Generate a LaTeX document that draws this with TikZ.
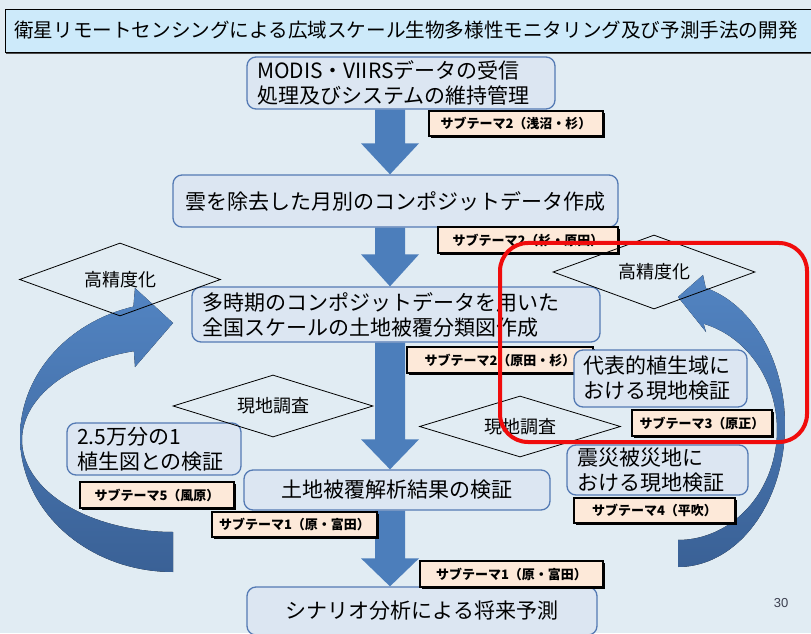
\documentclass[tikz,border=0pt]{standalone}
\usepackage{fontspec}
\newfontfamily\jp{Noto Sans CJK JP}
\newfontfamily\pn{Liberation Sans}
\usetikzlibrary{shapes.geometric,calc,shadows}
\definecolor{bgc}{RGB}{225,236,243}
\definecolor{titlefill}{RGB}{205,234,250}
\definecolor{boxfill}{RGB}{220,230,242}
\definecolor{boxline}{RGB}{84,122,180}
\definecolor{labfill}{RGB}{253,233,217}
\definecolor{arrowc}{RGB}{76,126,187}
\definecolor{arrowtop}{RGB}{82,132,194}
\definecolor{arrowbot}{RGB}{58,97,150}
\definecolor{redc}{RGB}{240,12,12}
\definecolor{pnc}{RGB}{60,64,80}
\pgfdeclarelayer{back}
\pgfdeclarelayer{mid}
\pgfsetlayers{back,mid,main}
\newcommand\blockarrow[3]{%
  \fill[arrowc] let \p1=(#1.south), \p2=(#2.north) in
    (375,\y1) -- (375,\y2+#3pt) -- (361,\y2+#3pt) -- (390,\y2)
    -- (419,\y2+#3pt) -- (405,\y2+#3pt) -- (405,\y1) -- cycle;}
\begin{document}
\begin{tikzpicture}[x=1pt,y=1pt,
  box/.style={draw=boxline, line width=1.3pt, fill=boxfill, rounded corners=9pt,
    inner sep=0pt, font=\jp\fontsize{21}{25}\selectfont},
  tag/.style={draw=black, line width=1.3pt, fill=labfill, inner sep=0pt,
    font=\jp\bfseries\fontsize{13}{15}\selectfont,
    drop shadow={shadow xshift=1.6pt, shadow yshift=-1.6pt, fill=black, opacity=1}},
  dia/.style={draw=black, line width=0.8pt, diamond, aspect=2.75, inner sep=0pt,
    font=\jp\fontsize{18}{20}\selectfont},
]
\useasboundingbox (0,0) rectangle (811,633);
\clip (0,0) rectangle (811,633);
\begin{pgfonlayer}{back}
  \fill[bgc] (0,0) rectangle (811,633);
\end{pgfonlayer}

% title
\node[draw=black, line width=1.2pt, fill=titlefill, minimum width=830pt, minimum height=43pt,
  anchor=north west, inner sep=0pt,
  drop shadow={shadow xshift=0pt, shadow yshift=-1.5pt, fill=black!70, opacity=1}] (title) at (5,624) {};
\node[anchor=west, inner sep=0pt, font=\jp\fontsize{19.6}{22}\selectfont] (titletext) at (14,603)
  {衛星リモートセンシングによる広域スケール生物多様性モニタリング及び予測手法の開発};

% main flow boxes
\node[box, minimum width=308pt, minimum height=52pt, text width=288pt, align=left] (b1) at (401,550)
  {MODIS・VIIRSデータの受信\\処理及びシステムの維持管理};
\node[box, minimum width=445pt, minimum height=52pt, align=center] (b2) at (395.5,432)
  {雲を除去した月別のコンポジットデータ作成};
\node[box, minimum width=408pt, minimum height=55pt, text width=388pt, align=left] (b3) at (396,318.5)
  {多時期のコンポジットデータを用いた\\全国スケールの土地被覆分類図作成};
\node[box, minimum width=306pt, minimum height=40pt, align=center] (b4) at (397,143)
  {土地被覆解析結果の検証};
\node[box, minimum width=350pt, minimum height=48pt, align=center] (b5) at (422,22)
  {シナリオ分析による将来予測};

% block arrows and curved arrows
\begin{pgfonlayer}{mid}
  \blockarrow{b1}{b2}{31}
  \blockarrow{b2}{b3}{32}
  \blockarrow{b3}{b4}{30}
  \blockarrow{b4}{b5}{28}
  % left curved arrow
  \fill[top color=arrowtop, bottom color=arrowbot]
    plot[domain=105:270, samples=70, variable=\t] ({173+153*cos(\t)},{196+135*sin(\t)})
    -- plot[domain=270:105, samples=70, variable=\t] ({173+151*cos(\t)},{193+92*sin(\t)})
    -- (135,266) -- (173,310) -- (135,345) -- cycle;
  % right curved arrow
  \fill[top color=arrowtop, bottom color=arrowbot]
    plot[domain=75:-90, samples=70, variable=\t] ({678+107*cos(\t)},{208+142*sin(\t)})
    -- plot[domain=-90:75, samples=70, variable=\t] ({678+99*cos(\t)},{203+110*sin(\t)})
    -- (706,301) -- (678,336) -- (703,358) -- cycle;
\end{pgfonlayer}

% subtheme tags
\node[tag, minimum width=174pt, minimum height=25pt] (t1) at (516,509.5) {サブテーマ2（浅沼・杉）};
\node[tag, minimum width=180pt, minimum height=26pt] (t2) at (528,393) {サブテーマ2（杉・原田）};
\node[tag, minimum width=186pt, minimum height=26pt] (t3) at (500,273) {サブテーマ2（原田・杉）};
\node[tag, minimum width=140pt, minimum height=26pt] (t3b) at (702,210) {サブテーマ3（原正）};
\node[tag, minimum width=161pt, minimum height=25pt] (t4) at (654.5,122.5) {サブテーマ4（平吹）};
\node[tag, minimum width=165pt, minimum height=25pt] (t1a) at (294.5,108.5) {サブテーマ1（原・富田）};
\node[tag, minimum width=183pt, minimum height=26pt] (t1b) at (511.5,59) {サブテーマ1（原・富田）};
\node[tag, minimum width=154pt, minimum height=26pt] (t5) at (157,138) {サブテーマ5（風原）};

% side boxes (drawn above the tags they overlap)
\node[box, minimum width=173pt, minimum height=57pt, text width=155pt, align=left] (rep) at (660.5,254.5)
  {代表的植生域に\\おける現地検証};
\node[box, minimum width=181pt, minimum height=50pt, text width=161pt, align=left] (quake) at (657.5,163)
  {震災被災地に\\おける現地検証};
\node[box, minimum width=174pt, minimum height=52pt, text width=154pt, align=left] (veg) at (154,184)
  {2.5万分の1\\植生図との検証};

% diamonds
\node[dia, minimum width=201pt, minimum height=73pt] (dl) at (120,353.5) {高精度化};
\node[dia, minimum width=202pt, minimum height=74pt] (dr) at (654,361) {高精度化};
\node[dia, minimum width=200pt, minimum height=62pt] (sl) at (273,227) {現地調査};
\node[dia, minimum width=201pt, minimum height=61pt] (sr) at (520,206.5) {現地調査};

% page number
\node[font=\pn\fontsize{13}{15}\selectfont, text=pnc, inner sep=0pt] (pg) at (781,30) {30};

% red highlight
\draw[redc, line width=4pt, rounded corners=28pt] (500,191) rectangle (807,390);
\end{tikzpicture}
\end{document}
